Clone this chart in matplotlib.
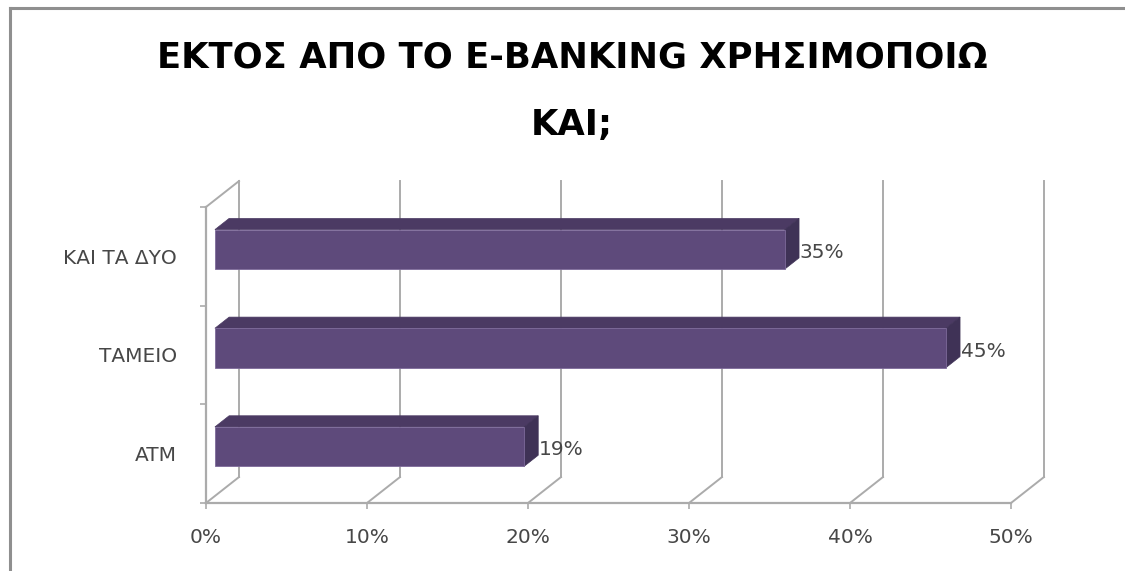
import matplotlib
matplotlib.use("Agg")
import matplotlib.pyplot as plt
from matplotlib.patches import Polygon, Rectangle
from matplotlib.lines import Line2D

# ---- data ----
title_line1 = "ΕΚΤΟΣ ΑΠΟ ΤΟ E-BANKING ΧΡΗΣΙΜΟΠΟΙΩ"
title_line2 = "ΚΑΙ;"
categories = ["ATM", "ΤΑΜΕΙΟ", "ΚΑΙ ΤΑ ΔΥΟ"]          # bottom to top
values = [0.192, 0.454, 0.354]
xticks = [0.0, 0.1, 0.2, 0.3, 0.4, 0.5]
xtick_labels = ["0%", "10%", "20%", "30%", "40%", "50%"]

# ---- styling ----
W, H = 1125, 571
DPI = 100
GRID = "#ababab"
TXT = "#474747"
FRONT = "#5e4a7b"
TOP = "#4b3a63"
SIDE = "#3f3256"
DX, DY = 0.0205, 0.263      # full-depth offset in data units
F_D, B_D = 0.27, 0.70       # bar front / back depth fraction
BW = 0.4                    # bar width in category units

fig = plt.figure(figsize=(W / DPI, H / DPI), dpi=DPI)
fig.patch.set_facecolor("white")

# front plane of plot: x 206..1011 px, y 207..503 px (from top)
left, right = 206 / W, 1011 / W
bottom, top = (H - 503) / H, (H - 207) / H
ax = fig.add_axes([left, bottom, right - left, top - bottom])
ax.set_xlim(0, 0.5)
ax.set_ylim(-0.5, len(categories) - 0.5)
ax.patch.set_alpha(0)
for s in ax.spines.values():
    s.set_visible(False)

ymin, ymax = -0.5, len(categories) - 0.5

# back wall vertical gridlines and floor diagonals
for t in xticks:
    ax.add_line(Line2D([t + DX, t + DX], [ymin + DY, ymax + DY], color=GRID, lw=1.4,
                       clip_on=False, zorder=1))
    ax.add_line(Line2D([t, t + DX], [ymin, ymin + DY], color=GRID, lw=1.4,
                       clip_on=False, zorder=1))
# front floor line, left axis, left wall top diagonal
ax.add_line(Line2D([0, 0.5], [ymin, ymin], color=GRID, lw=1.6, clip_on=False, zorder=1))
ax.add_line(Line2D([0, 0], [ymin, ymax], color=GRID, lw=1.6, clip_on=False, zorder=1))
ax.add_line(Line2D([0, DX], [ymax, ymax + DY], color=GRID, lw=1.4, clip_on=False, zorder=1))

# ticks
ax.set_xticks(xticks)
ax.set_xticklabels(xtick_labels)
ax.tick_params(axis="x", length=4, width=1.2, color=GRID, pad=14, labelsize=14.5,
               labelcolor=TXT)
ax.set_yticks(range(len(categories)))
ax.set_yticklabels(categories)
ax.tick_params(axis="y", which="major", length=0, pad=21, labelsize=14.5, labelcolor=TXT)
ax.set_yticks([ymin + i for i in range(len(categories) + 1)], minor=True)
ax.tick_params(axis="y", which="minor", length=4, width=1.2, color=GRID)

# 3D bars
for i, v in enumerate(values):
    y0, y1 = i - BW / 2, i + BW / 2
    fx, fy = F_D * DX, F_D * DY
    bx, by = B_D * DX, B_D * DY
    ax.add_patch(Polygon([(fx, y1 + fy), (v + fx, y1 + fy), (v + bx, y1 + by), (bx, y1 + by)],
                         closed=True, facecolor=TOP, edgecolor=TOP, lw=0.5,
                         clip_on=False, zorder=3))
    ax.add_patch(Polygon([(v + fx, y0 + fy), (v + fx, y1 + fy), (v + bx, y1 + by), (v + bx, y0 + by)],
                         closed=True, facecolor=SIDE, edgecolor=SIDE, lw=0.5,
                         clip_on=False, zorder=3))
    ax.add_patch(Rectangle((fx, y0 + fy), v, BW, facecolor=FRONT, edgecolor="#7d6a9a",
                           lw=0.6, clip_on=False, zorder=4))
    ax.text(v + bx + 0.0005, i + 0.04, f"{v:.0%}", ha="left", va="center",
            fontsize=14.5, color=TXT, zorder=5, clip_on=False)

# title
fig.text(572 / W, 1 - 57 / H, title_line1, ha="center", va="center",
         fontsize=25.5, fontweight="bold", color="black")
fig.text(572 / W, 1 - 125 / H, title_line2, ha="center", va="center",
         fontsize=25.5, fontweight="bold", color="black")

# chart frame (top and left edges)
fig.add_artist(Line2D([10 / W, 1.0], [1 - 7.5 / H, 1 - 7.5 / H], transform=fig.transFigure,
                      color="#8f8f8f", lw=2.2))
fig.add_artist(Line2D([10 / W, 10 / W], [0.0, 1 - 7.5 / H], transform=fig.transFigure,
                      color="#8f8f8f", lw=2.2))

fig.savefig("out.png", dpi=DPI, facecolor="white")
